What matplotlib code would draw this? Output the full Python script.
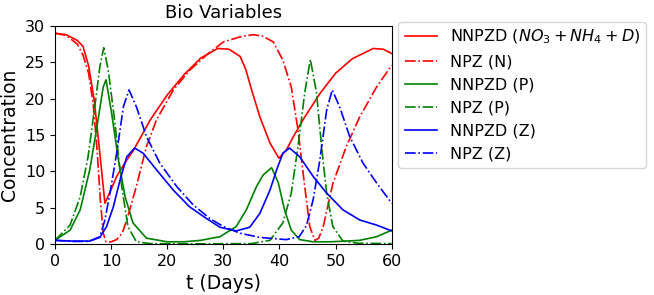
import numpy as np
import matplotlib
matplotlib.use('Agg')
import matplotlib.pyplot as plt

# values
t_nnpzd_n = [0, 2, 4, 5, 6, 7, 8, 8.9, 10, 11, 12.5, 14, 17, 20, 23, 26, 29, 31, 33, 34, 35,
             36.5, 38.3, 39.9, 41.2, 42.5, 44.2, 47.2, 50, 53, 56.7, 58.5, 60]
nnpzd_n = [29.0, 28.8, 28.0, 27.2, 24.5, 19.8, 12.5, 5.6, 7.5, 9.3, 11.2, 12.9, 17.1, 20.5, 23.3,
           25.6, 26.9, 26.8, 25.8, 24.0, 21.3, 17.5, 13.9, 11.8, 12.9, 14.8, 17.1, 20.7, 23.5,
           25.5, 26.9, 26.8, 26.2]

t_npz_n = [0, 2, 4, 5, 6, 6.8, 7.5, 8.1, 8.6, 9.1, 10, 11, 12, 12.8, 14.5, 16.3, 18.1, 21.1, 24,
           27, 30, 33, 35.3, 37, 38.9, 40.6, 42.1, 43.3, 44.5, 45.4, 46.3, 47, 47.8, 49.5, 51.9,
           54.3, 57.3, 60]
npz_n = [29.0, 28.7, 27.5, 26.0, 23.5, 19.4, 13.0, 6.0, 1.5, 0.3, 0.3, 0.6, 1.5, 3.3, 7.9, 13.4,
         17.1, 21.2, 23.9, 26.0, 27.8, 28.5, 28.8, 28.6, 27.8, 25.3, 21.6, 15.7, 7.9, 2.4, 0.5,
         0.8, 2.4, 8.3, 13.4, 17.5, 21.6, 24.6]

t_nnpzd_p = [0, 2.7, 4.5, 6.2, 7.4, 8.6, 9.1, 10.1, 11.3, 12.5, 13.9, 16.3, 20, 23, 26, 28, 29.4,
             32.3, 34.1, 35.9, 37.1, 38.6, 39.8, 40.9, 42.1, 43.6, 46, 49, 52, 54.3, 57.3, 60]
nnpzd_p = [0.5, 1.9, 4.7, 10.2, 15.7, 21.6, 22.6, 18.0, 11.6, 6.5, 2.9, 0.8, 0.3, 0.3, 0.5, 0.8,
           1.0, 2.4, 4.7, 7.9, 9.5, 10.5, 8.4, 4.7, 1.9, 0.6, 0.3, 0.3, 0.4, 0.5, 1.0, 1.9]

t_npz_p = [0, 2.7, 4.5, 5.9, 7.1, 8.0, 8.7, 9.5, 10.7, 11.9, 13.0, 14.5, 17, 25, 35, 38.3, 40.6,
           42.1, 43.3, 44.5, 45.5, 46.6, 47.5, 48.4, 49.5, 51.3, 54, 60]
npz_p = [0.5, 2.6, 6.5, 12.0, 18.9, 24.4, 27.0, 23.9, 16.6, 7.9, 2.4, 0.3, 0.05, 0.02, 0.05, 0.5,
         2.9, 7.0, 13.4, 20.8, 25.4, 20.8, 13.4, 7.0, 2.4, 0.4, 0.1, 0.05]

t_nnpzd_z = [0, 3, 6.2, 8.0, 9.2, 10.4, 11.6, 12.8, 14.2, 15.7, 18.1, 21.1, 24, 27, 29.4, 32.3,
             34.7, 36.5, 38.3, 39.5, 40.6, 41.8, 43.6, 46, 48.4, 51.3, 54.3, 57.3, 60]
nnpzd_z = [0.5, 0.4, 0.4, 0.9, 2.4, 5.1, 8.8, 12.0, 13.2, 12.5, 10.2, 7.4, 5.1, 3.5, 2.3, 1.8,
           2.3, 4.2, 7.4, 10.2, 12.5, 13.2, 12.0, 9.3, 7.0, 4.7, 3.3, 2.6, 1.8]

t_npz_z = [0, 3, 6, 8.0, 8.9, 9.8, 11, 12.2, 13.2, 14.5, 16.3, 18.7, 21.7, 24.6, 27.6, 30, 32.9,
           36.5, 41.2, 43.5, 44.8, 46.0, 47.2, 48.4, 49.4, 50.7, 52.5, 54.9, 57.3, 60]
npz_z = [0.5, 0.35, 0.35, 1.0, 3.3, 7.0, 12.5, 18.9, 21.2, 18.9, 14.8, 11.1, 7.9, 5.4, 3.5, 2.4,
         1.5, 0.9, 0.6, 1.0, 2.5, 6.1, 11.6, 18.4, 21.2, 18.9, 14.8, 11.1, 8.4, 5.6]

fig = plt.figure(figsize=(6.54, 2.95), dpi=100)
ax = fig.add_axes([0.084, 0.173, 0.515, 0.739])

ax.plot(t_nnpzd_n, nnpzd_n, 'r-', lw=1.2, label=r'NNPZD ($NO_3 + NH_4 + D$)')
ax.plot(t_npz_n, npz_n, 'r-.', lw=1.2, label='NPZ (N)')
ax.plot(t_nnpzd_p, nnpzd_p, 'g-', lw=1.2, label='NNPZD (P)')
ax.plot(t_npz_p, npz_p, 'g-.', lw=1.2, label='NPZ (P)')
ax.plot(t_nnpzd_z, nnpzd_z, 'b-', lw=1.2, label='NNPZD (Z)')
ax.plot(t_npz_z, npz_z, 'b-.', lw=1.2, label='NPZ (Z)')

ax.set_xlim(0, 60)
ax.set_ylim(0, 30)
ax.tick_params(labelsize=11.5)
ax.set_xlabel('t (Days)', fontsize=13.5)
ax.set_ylabel('Concentration', fontsize=13.5)
ax.set_title('Bio Variables', fontsize=13)
ax.legend(loc='upper left', bbox_to_anchor=(1.02, 1.02), borderaxespad=0, fontsize=11.5)

fig.savefig('out.png', dpi=100)
